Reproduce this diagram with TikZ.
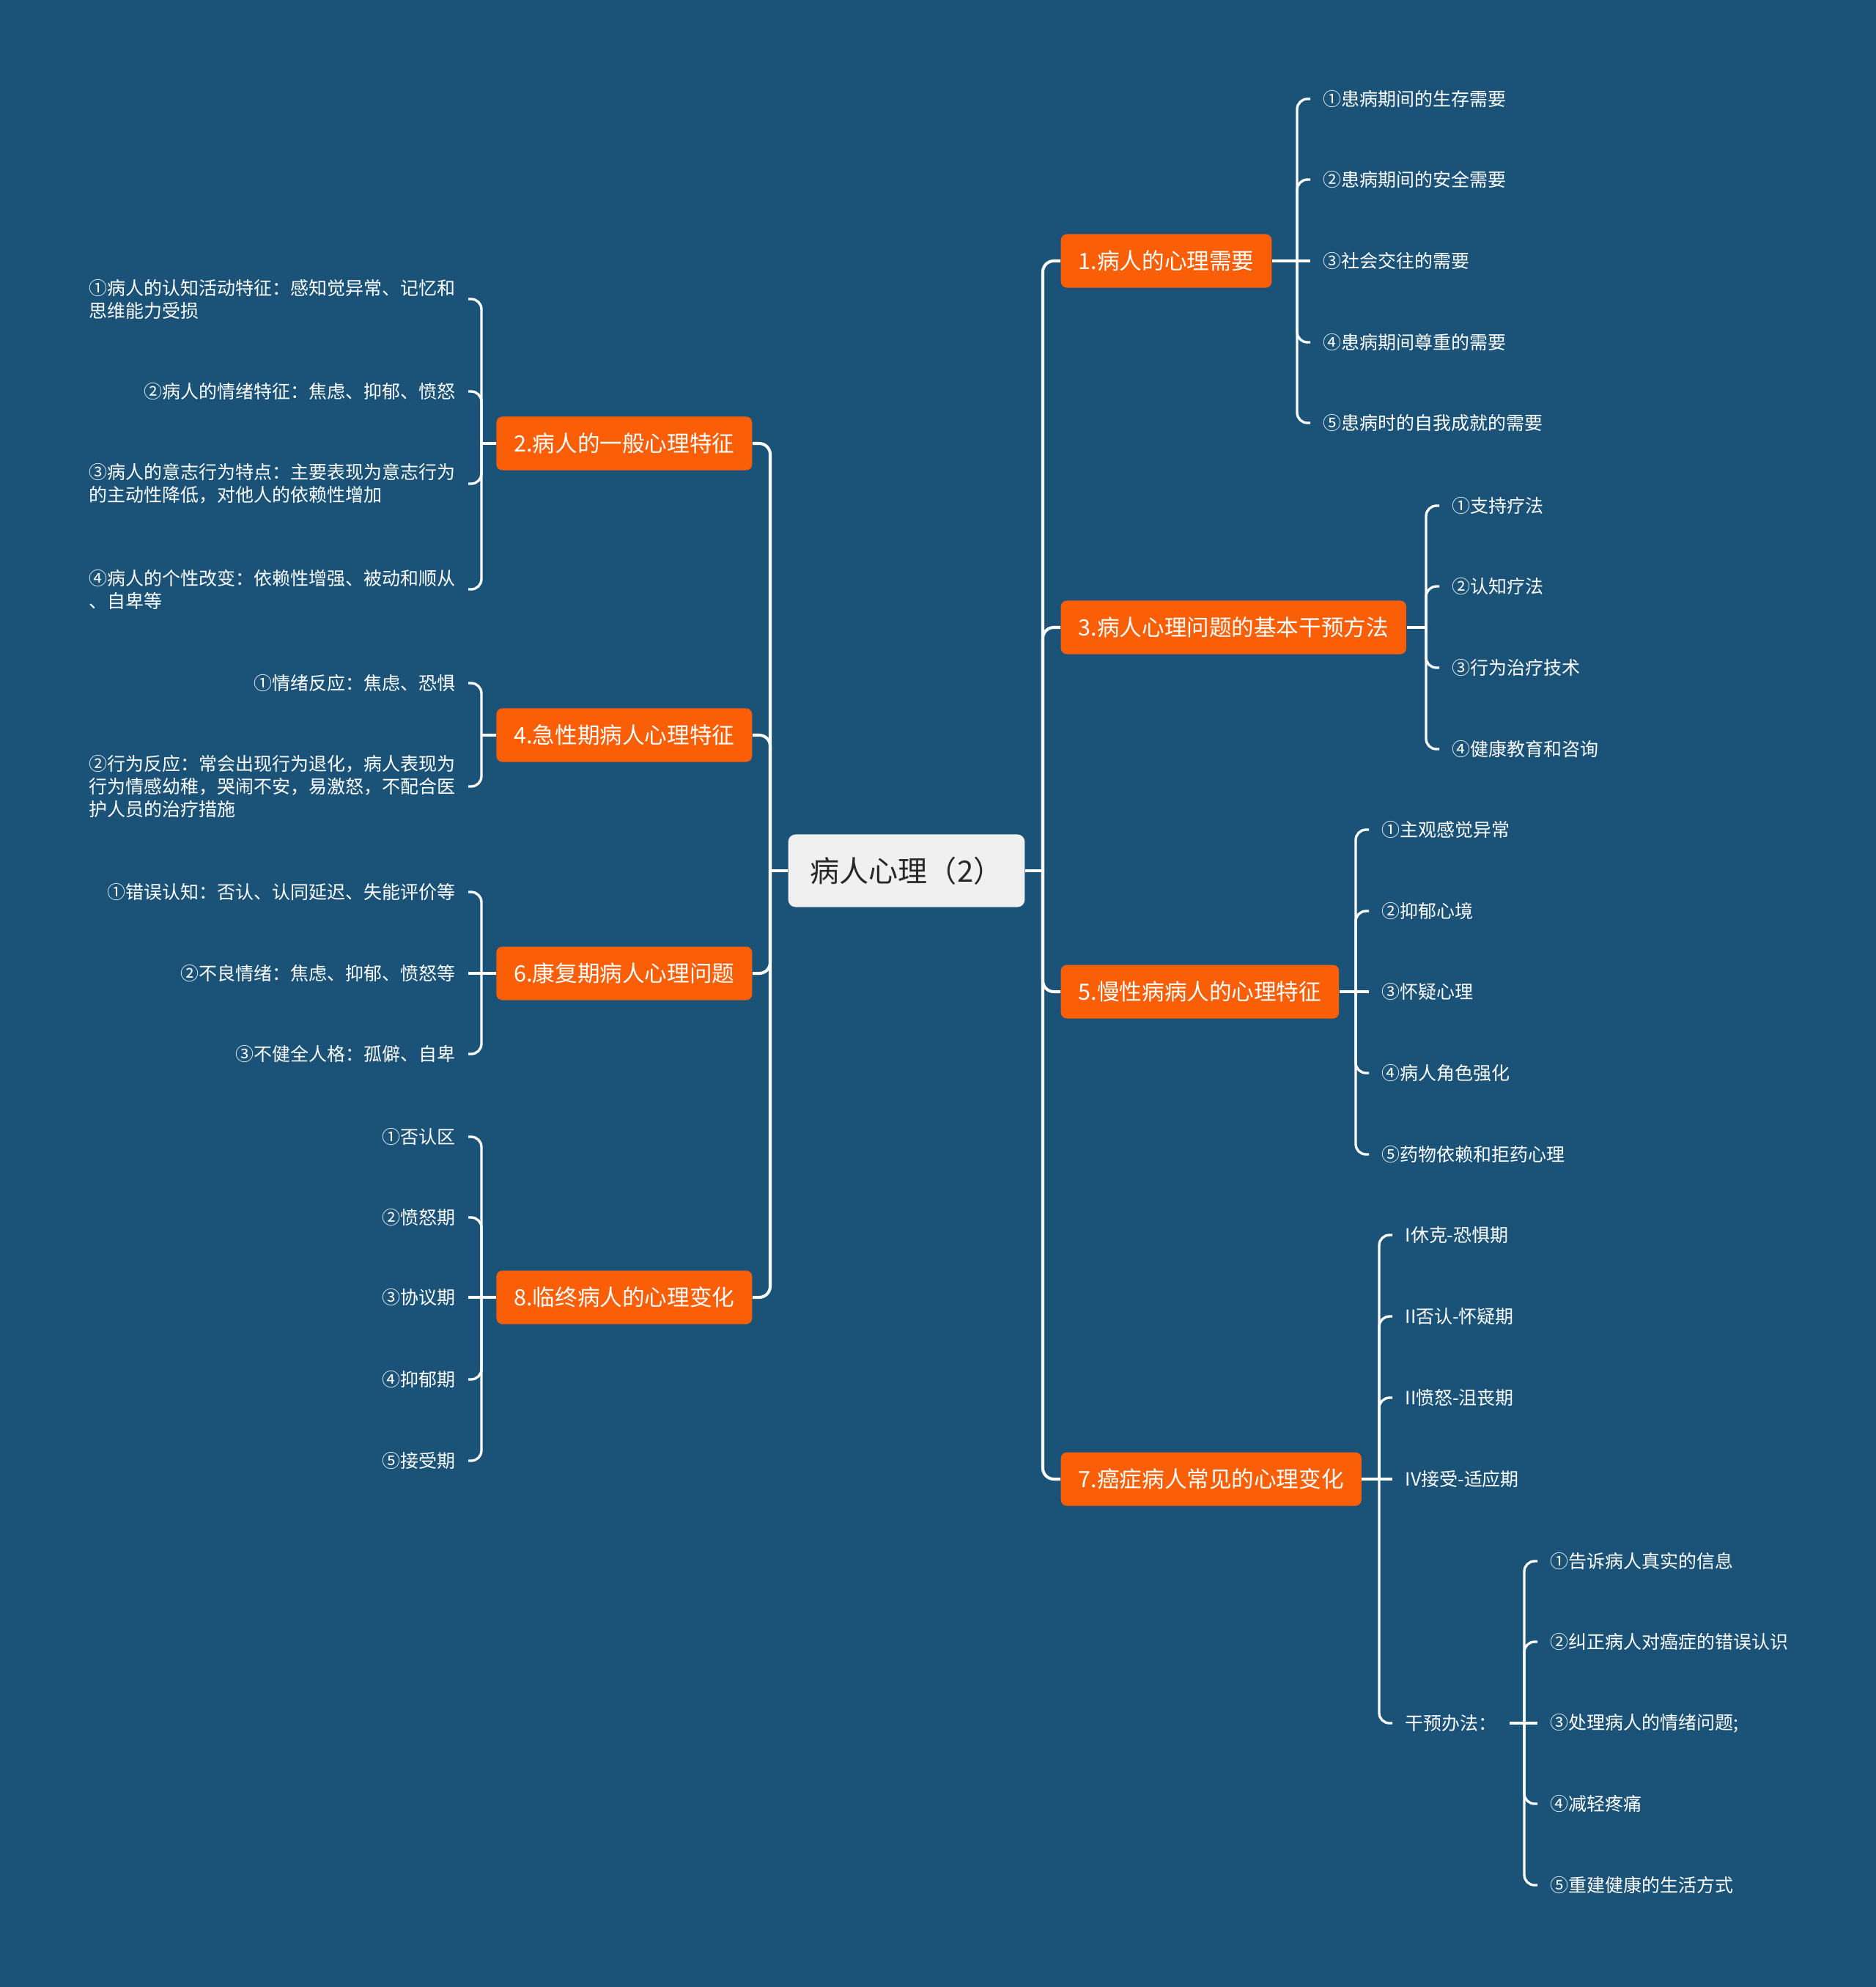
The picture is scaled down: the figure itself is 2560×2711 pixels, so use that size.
\documentclass[tikz,border=0pt]{standalone}
\usepackage{fontspec}
\setmainfont{Noto Sans CJK SC}
\usetikzlibrary{calc}
\definecolor{DeepBlue}{RGB}{27,83,120}
\definecolor{BrightOrange}{RGB}{250,95,8}
\definecolor{PaleGray}{RGB}{240,240,240}
\definecolor{InkGray}{RGB}{40,40,40}
\newcommand{\topicr}[3]{% nombre, y, texto
    \node[topic, anchor=west] (#1) at ($(tR)+(24,#2)$) {#3};
    \draw[trunk] (root.east -| tR) -- (#1.west -| tR) -- (#1.west);
}
\newcommand{\topicl}[3]{% nombre, y, texto
    \node[topic, anchor=east] (#1) at ($(tL)+(-24,#2)$) {#3};
    \draw[trunk] (root.west -| tL) -- (#1.east -| tL) -- (#1.east);
}
\newcommand{\leafr}[5]{% padre, corchete, nombre, y, texto
    \node[leaf, anchor=west] (#3) at ($(#2)+(18,#4)$) {#5};
    \draw[twig] (#1.east -| #2) -- (#3.west -| #2) -- (#3.west);
}
\newcommand{\leafl}[5]{% padre, corchete, nombre, y, texto
    \node[leaf, anchor=east] (#3) at ($(#2)+(-18,#4)$) {#5};
    \draw[twig] (#1.west -| #2) -- (#3.east -| #2) -- (#3.east);
}
\newcommand{\midr}[4]{% padre, corchete, nombre, texto
    \node[leaf, anchor=west, xshift=0.18cm] (#3) at (#1.east -| #2) {#4};
    \draw[twig] (#1.east) -- (#3.west);
}
\newcommand{\midl}[4]{% padre, corchete, nombre, texto
    \node[leaf, anchor=east, xshift=-0.18cm] (#3) at (#1.west -| #2) {#4};
    \draw[twig] (#1.west) -- (#3.east);
}

\begin{document}
\begin{tikzpicture}[x=0.01cm, y=-0.01cm,
    root/.style={fill=PaleGray, text=InkGray, rounded corners=0.1cm, inner xsep=0.3cm,
        minimum height=0.99cm, font=\fontsize{11.4pt}{13pt}\selectfont},
    topic/.style={fill=BrightOrange, text=white, rounded corners=0.08cm, inner xsep=0.24cm,
        minimum height=0.73cm, font=\fontsize{8.7pt}{10pt}\selectfont},
    leaf/.style={text=white, align=left, inner xsep=0.17cm, inner ysep=0.05cm,
        font=\fontsize{7.1pt}{8.8pt}\selectfont},
    trunk/.style={draw=white, line width=1.15pt, rounded corners=0.15cm},
    twig/.style={draw=white, line width=0.95pt, rounded corners=0.14cm}]

% fondo
\fill[DeepBlue] (0,0) rectangle (2560,2711);

\node[root] (root) at (1237,1188) {病人心理（2）};
\coordinate (tR) at (1423,0);
\coordinate (tL) at (1051,0);
\draw[trunk] (root.east) -- (root.east -| tR);
\draw[trunk] (root.west) -- (root.west -| tL);

% lado derecho
\topicr{t1}{356}{1.病人的心理需要}
\topicr{t3}{856}{3.病人心理问题的基本干预方法}
\topicr{t5}{1353}{5.慢性病病人的心理特征}
\topicr{t7}{2018}{7.癌症病人常见的心理变化}

% lado izquierdo
\topicl{t2}{605}{2.病人的一般心理特征}
\topicl{t4}{1003}{4.急性期病人心理特征}
\topicl{t6}{1328}{6.康复期病人心理问题}
\topicl{t8}{1770}{8.临终病人的心理变化}

% 1
\coordinate (k1) at (1770,0);
\draw[twig] (t1.east) -- (t1.east -| k1);
\leafr{t1}{k1}{c11}{135}{①患病期间的生存需要}
\leafr{t1}{k1}{c12}{245}{②患病期间的安全需要}
\midr{t1}{k1}{c13}{③社会交往的需要}
\leafr{t1}{k1}{c14}{467}{④患病期间尊重的需要}
\leafr{t1}{k1}{c15}{577}{⑤患病时的自我成就的需要}

% 3
\coordinate (k3) at (1946,0);
\draw[twig] (t3.east) -- (t3.east -| k3);
\leafr{t3}{k3}{c31}{690}{①支持疗法}
\leafr{t3}{k3}{c32}{800}{②认知疗法}
\leafr{t3}{k3}{c33}{911}{③行为治疗技术}
\leafr{t3}{k3}{c34}{1022}{④健康教育和咨询}

% 5
\coordinate (k5) at (1850,0);
\draw[twig] (t5.east) -- (t5.east -| k5);
\leafr{t5}{k5}{c51}{1132}{①主观感觉异常}
\leafr{t5}{k5}{c52}{1243}{②抑郁心境}
\midr{t5}{k5}{c53}{③怀疑心理}
\leafr{t5}{k5}{c54}{1464}{④病人角色强化}
\leafr{t5}{k5}{c55}{1575}{⑤药物依赖和拒药心理}

% 7
\coordinate (k7) at (1882,0);
\draw[twig] (t7.east) -- (t7.east -| k7);
\leafr{t7}{k7}{c71}{1685}{I休克-恐惧期}
\leafr{t7}{k7}{c72}{1796}{II否认-怀疑期}
\leafr{t7}{k7}{c73}{1907}{II愤怒-沮丧期}
\midr{t7}{k7}{c74}{IV接受-适应期}
\leafr{t7}{k7}{gy}{2351}{干预办法：}

\coordinate (kg) at (2080,0);
\draw[twig] (gy.east) -- (gy.east -| kg);
\leafr{gy}{kg}{g1}{2130}{①告诉病人真实的信息}
\leafr{gy}{kg}{g2}{2240}{②纠正病人对癌症的错误认识}
\midr{gy}{kg}{g3}{③处理病人的情绪问题;}
\leafr{gy}{kg}{g4}{2461}{④减轻疼痛}
\leafr{gy}{kg}{g5}{2572}{⑤重建健康的生活方式}

% 2
\coordinate (k2) at (657,0);
\draw[twig] (t2.west) -- (t2.west -| k2);
\leafl{t2}{k2}{c21}{408}{①病人的认知活动特征：感知觉异常、记忆和\\思维能力受损}
\leafl{t2}{k2}{c22}{534}{②病人的情绪特征：焦虑、抑郁、愤怒}
\leafl{t2}{k2}{c23}{660}{③病人的意志行为特点：主要表现为意志行为\\的主动性降低，对他人的依赖性增加}
\leafl{t2}{k2}{c24}{804}{④病人的个性改变：依赖性增强、被动和顺从\\、自卑等}

% 4
\coordinate (k4) at (657,0);
\draw[twig] (t4.west) -- (t4.west -| k4);
\leafl{t4}{k4}{c41}{932}{①情绪反应：焦虑、恐惧}
\leafl{t4}{k4}{c42}{1073}{②行为反应：常会出现行为退化，病人表现为\\行为情感幼稚，哭闹不安，易激怒，不配合医\\护人员的治疗措施}

% 6
\coordinate (k6) at (657,0);
\draw[twig] (t6.west) -- (t6.west -| k6);
\leafl{t6}{k6}{c61}{1217}{①错误认知：否认、认同延迟、失能评价等}
\midl{t6}{k6}{c62}{②不良情绪：焦虑、抑郁、愤怒等}
\leafl{t6}{k6}{c63}{1438}{③不健全人格：孤僻、自卑}

% 8
\coordinate (k8) at (657,0);
\draw[twig] (t8.west) -- (t8.west -| k8);
\leafl{t8}{k8}{c81}{1551}{①否认区}
\leafl{t8}{k8}{c82}{1661}{②愤怒期}
\midl{t8}{k8}{c83}{③协议期}
\leafl{t8}{k8}{c84}{1882}{④抑郁期}
\leafl{t8}{k8}{c85}{1993}{⑤接受期}

\end{tikzpicture}
\end{document}
